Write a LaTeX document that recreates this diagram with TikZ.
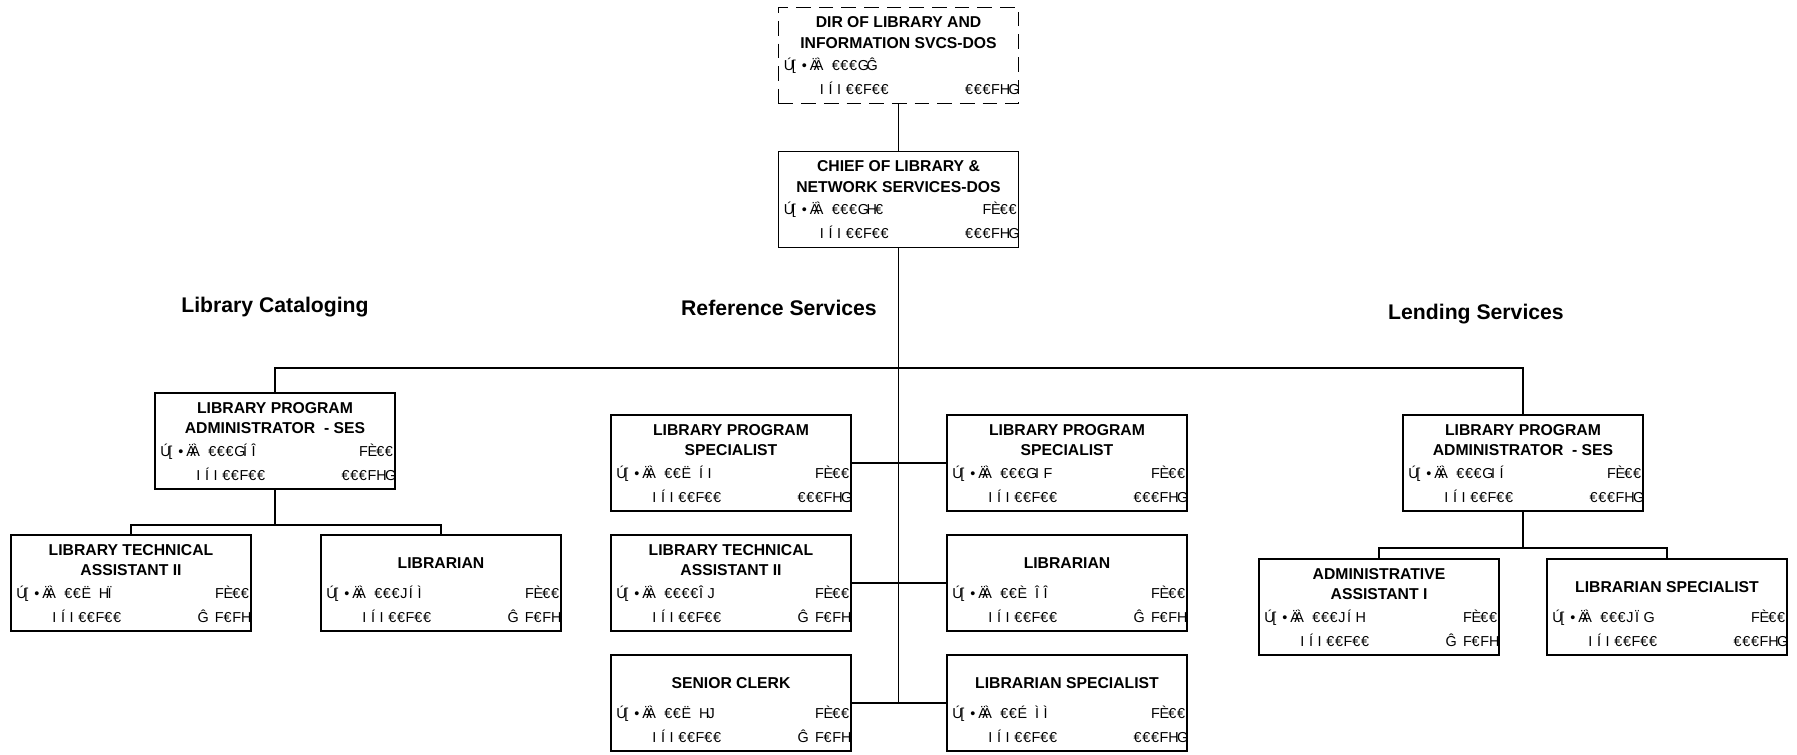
\documentclass[tikz,border=0pt]{standalone}
\usepackage{fontspec}
\setmainfont{Liberation Sans}
\usetikzlibrary{calc}

\makeatletter
% set a code string at a fixed pitch, one glyph per cell
\newcommand\fixpitch[1]{\@tfor\fp@ch:=#1\do{\makebox[6.5pt][l]{\fp@ch}}}
\makeatother
% position-number prefix
\newcommand\pfx{\rlap{Ú}\kern6pt\rlap{[}\kern7.5pt\rlap{•}\kern6pt\rlap{Ä}\kern3pt\rlap{À}\kern13.5pt}

\tikzset{
  box/.style={draw, line width=1.4pt, minimum width=180pt, minimum height=72pt, inner sep=0pt},
  dir box/.style={dash pattern=on 11pt off 6pt},
  title/.style={font=\bfseries\fontsize{11.8}{15.5}\selectfont, align=center, inner sep=0pt},
  data/.style={font=\fontsize{10.8}{12}\selectfont, inner sep=0pt},
  section/.style={font=\bfseries\fontsize{15.9}{19}\selectfont, inner sep=0pt},
  link/.style={line width=1.3pt}
}

% #1 title offset, #2 name, #3 centre, #4 title, #5 code, #6 fte, #7 range
\newcommand\jobbox[7][26]{%
  \node[box, #2 box/.try] (#2) at (#3) {};
  \node[title] (#2-t) at ($(#2.north)+(0,#1)$) {#4};
  \node[data,anchor=base west] (#2-c) at ($(#2.north west)+(6,64)$) {\pfx\fixpitch{#5}};
  \if\relax\detokenize{#6}\relax\else
    \node[data,anchor=base east] (#2-f) at ($(#2.north east)+(-2,64)$) {\fixpitch{#6}};
  \fi
  \node[data,anchor=base west] (#2-s) at ($(#2.north west)+(42,88)$) {\fixpitch{IÍI€€F€€}};
  \node[data,anchor=base east] (#2-r) at ($(#2.north east)+(-2,88)$) {\fixpitch{#7}};
}

\begin{document}
\begin{tikzpicture}[x=0.75pt, y=-0.75pt]
  \useasboundingbox (0,0) rectangle (1797,754);

  % top of the tree
  \jobbox{dir}{898.5,55.5}{DIR OF LIBRARY AND\\INFORMATION SVCS-DOS}{€€€GĜ}{}{€€€FHG}
  \jobbox{chief}{898.5,199.5}{CHIEF OF LIBRARY \&\\NETWORK SERVICES-DOS}{€€€GH€}{FÈ€€}{€€€FHG}

  % section headings
  \node[section] (hcat) at (275,307) {Library Cataloging};
  \node[section] (href) at (779,308) {Reference Services};
  \node[section] (hlend) at (1476,314) {Lending Services};

  % library cataloging
  \jobbox{lpaL}{275,441}{LIBRARY PROGRAM\\ADMINISTRATOR \ - SES}{€€€GÍÎ}{FÈ€€}{€€€FHG}
  \jobbox{ltaL}{131,583}{LIBRARY TECHNICAL\\ASSISTANT II}{€€Ë~HÏ}{FÈ€€}{Ĝ~F€FH}
  \jobbox[29]{libL}{441,583}{LIBRARIAN}{€€€JÍÌ}{FÈ€€}{Ĝ~F€FH}

  % reference services
  \jobbox{lpsA}{731,463}{LIBRARY PROGRAM\\SPECIALIST}{€€Ë~ÍI}{FÈ€€}{€€€FHG}
  \jobbox{lpsB}{1067,463}{LIBRARY PROGRAM\\SPECIALIST}{€€€GIF}{FÈ€€}{€€€FHG}
  \jobbox{ltaC}{731,583}{LIBRARY TECHNICAL\\ASSISTANT II}{€€€€ÎJ}{FÈ€€}{Ĝ~F€FH}
  \jobbox[29]{libC}{1067,583}{LIBRARIAN}{€€È~ÎÎ}{FÈ€€}{Ĝ~F€FH}
  \jobbox[29]{clerk}{731,703}{SENIOR CLERK}{€€Ë~HJ}{FÈ€€}{Ĝ~F€FH}
  \jobbox[29]{lsC}{1067,703}{LIBRARIAN SPECIALIST}{€€É~ÌÌ}{FÈ€€}{€€€FHG}

  % lending services
  \jobbox{lpaR}{1523,463}{LIBRARY PROGRAM\\ADMINISTRATOR \ - SES}{€€€GIÍ}{FÈ€€}{€€€FHG}
  \jobbox{admR}{1379,607}{ADMINISTRATIVE\\ASSISTANT I}{€€€JÍH}{FÈ€€}{Ĝ~F€FH}
  \jobbox[29]{lsR}{1667,607}{LIBRARIAN SPECIALIST}{€€€JÏG}{FÈ€€}{€€€FHG}

  % bus points
  \coordinate (busA) at (898.5,368);
  \coordinate (busL) at (275,525);
  \coordinate (busR) at (1523,548);

  % connectors
  \draw[link] (dir.south) -- (chief.north);
  \draw[link] (chief.south) -- (chief.south |- clerk.east);
  \draw[link] (lpaL.north) |- (busA) -| (lpaR.north);
  \draw[link] (lpsA.east) -- (lpsB.west);
  \draw[link] (ltaC.east) -- (libC.west);
  \draw[link] (clerk.east) -- (lsC.west);
  \draw[link] (lpaL.south) -- (busL);
  \draw[link] (ltaL.north) |- (busL) -| (libL.north);
  \draw[link] (lpaR.south) -- (busR);
  \draw[link] (admR.north) |- (busR) -| (lsR.north);
\end{tikzpicture}
\end{document}
